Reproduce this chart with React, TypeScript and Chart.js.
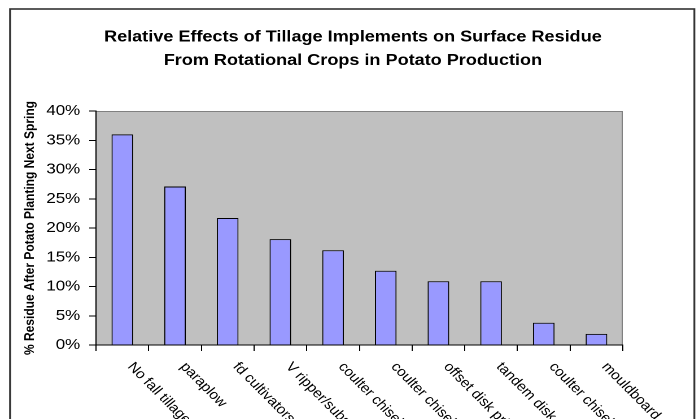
import { useEffect, useRef } from "react";
import { Chart, registerables } from "chart.js";

Chart.register(...registerables);

// ---- data ----
const categories = [
  "No fall tillage",
  "paraplow",
  "fd cultivators",
  "V ripper/subsoiler",
  "coulter chisel",
  "coulter chisel",
  "offset disk primary",
  "tandem disk",
  "coulter chisel",
  "mouldboard plow",
];
const residuePercent = [36, 27.1, 21.7, 18.1, 16.2, 12.7, 10.9, 10.9, 3.8, 1.9];
const yMin = 0;
const yMax = 40;
const yStep = 5;
const titleLines = [
  "Relative Effects of Tillage Implements on Surface Residue",
  "From Rotational Crops in Potato Production",
];
const yAxisTitle = "% Residue After Potato Planting Next Spring";

// ---- layout (logical canvas units, canvas is stretched horizontally) ----
const VIEW_W = 699;
const VIEW_H = 419;
const LOGICAL_W = 619;
const STRETCH = VIEW_W / LOGICAL_W;
const FONT = '"Liberation Sans", Arial, Helvetica, sans-serif';

export default function App() {
  const ref = useRef<HTMLCanvasElement>(null);

  useEffect(() => {
    document.body.style.margin = "0";
    const canvas = ref.current;
    if (!canvas) return;

    const framePlugin = {
      id: "framePlugin",
      beforeDraw(chart: any) {
        const { ctx, chartArea: a } = chart;
        ctx.save();
        ctx.fillStyle = "#ffffff";
        ctx.fillRect(0, 0, chart.width, chart.height);
        // outer chart box
        ctx.strokeStyle = "#333333";
        ctx.lineWidth = 1.6;
        ctx.strokeRect(8.9, 9, 606, 520);
        // plot background
        ctx.fillStyle = "#c0c0c0";
        ctx.fillRect(a.left, a.top, a.right - a.left, a.bottom - a.top);
        ctx.strokeStyle = "#808080";
        ctx.lineWidth = 1;
        ctx.beginPath();
        ctx.moveTo(a.left, a.top + 0.5);
        ctx.lineTo(a.right - 0.5, a.top + 0.5);
        ctx.lineTo(a.right - 0.5, a.bottom);
        ctx.stroke();
        // title
        ctx.fillStyle = "#000000";
        ctx.font = `bold 16px ${FONT}`;
        ctx.textAlign = "center";
        ctx.textBaseline = "alphabetic";
        ctx.fillText(titleLines[0], 312.5, 41.7);
        ctx.fillText(titleLines[1], 312.5, 65);
        ctx.restore();
      },
      afterDraw(chart: any) {
        const { ctx, chartArea: a } = chart;
        const xs = chart.scales.x;
        const ang = Math.atan(STRETCH);
        ctx.save();
        ctx.font = `13.5px ${FONT}`;
        ctx.fillStyle = "#000000";
        ctx.textAlign = "left";
        ctx.textBaseline = "top";
        categories.forEach((label, i) => {
          const x = xs.getPixelForTick(i);
          ctx.save();
          ctx.translate(x + 12, a.bottom + 15);
          ctx.rotate(ang);
          ctx.fillText(label, 0, 0);
          ctx.restore();
        });
        ctx.restore();
      },
    };

    const chart = new Chart(canvas, {
      type: "bar",
      data: {
        labels: categories,
        datasets: [
          {
            data: residuePercent,
            backgroundColor: "#9999ff",
            borderColor: "#000000",
            borderWidth: 1,
            barPercentage: 0.41,
            categoryPercentage: 1,
          },
        ],
      },
      options: {
        responsive: false,
        animation: false,
        devicePixelRatio: 2,
        layout: { padding: { left: 10, right: LOGICAL_W - 551.5, top: 111, bottom: 0 } },
        plugins: {
          legend: { display: false },
          title: { display: false },
          tooltip: { enabled: false },
        },
        scales: {
          x: {
            offset: true,
            grid: {
              offset: true,
              drawOnChartArea: false,
              drawTicks: true,
              tickLength: 6,
              color: "#000000",
            },
            border: { display: true, color: "#000000", width: 1 },
            ticks: { display: false },
            afterFit: (s: any) => {
              s.height = VIEW_H - 345;
            },
          },
          y: {
            min: yMin,
            max: yMax,
            ticks: {
              stepSize: yStep,
              callback: (v: any) => `${v}%`,
              font: { family: FONT, size: 15 },
              color: "#000000",
              padding: 8,
            },
            grid: {
              drawOnChartArea: false,
              drawTicks: true,
              tickLength: 6,
              color: "#000000",
            },
            border: { display: true, color: "#000000", width: 1 },
            title: {
              display: true,
              text: yAxisTitle,
              font: { family: FONT, size: 12, weight: "bold" },
              color: "#000000",
              padding: { top: 9.5, bottom: 0 },
            },
            afterFit: (s: any) => {
              s.width = 85 - 10;
            },
          },
        },
      } as any,
      plugins: [framePlugin],
    });

    return () => chart.destroy();
  }, []);

  return (
    <div style={{ width: VIEW_W, height: VIEW_H, overflow: "hidden" }}>
      <canvas
        ref={ref}
        width={LOGICAL_W}
        height={VIEW_H}
        style={{ width: `${VIEW_W}px`, height: `${VIEW_H}px`, display: "block" }}
      />
    </div>
  );
}
